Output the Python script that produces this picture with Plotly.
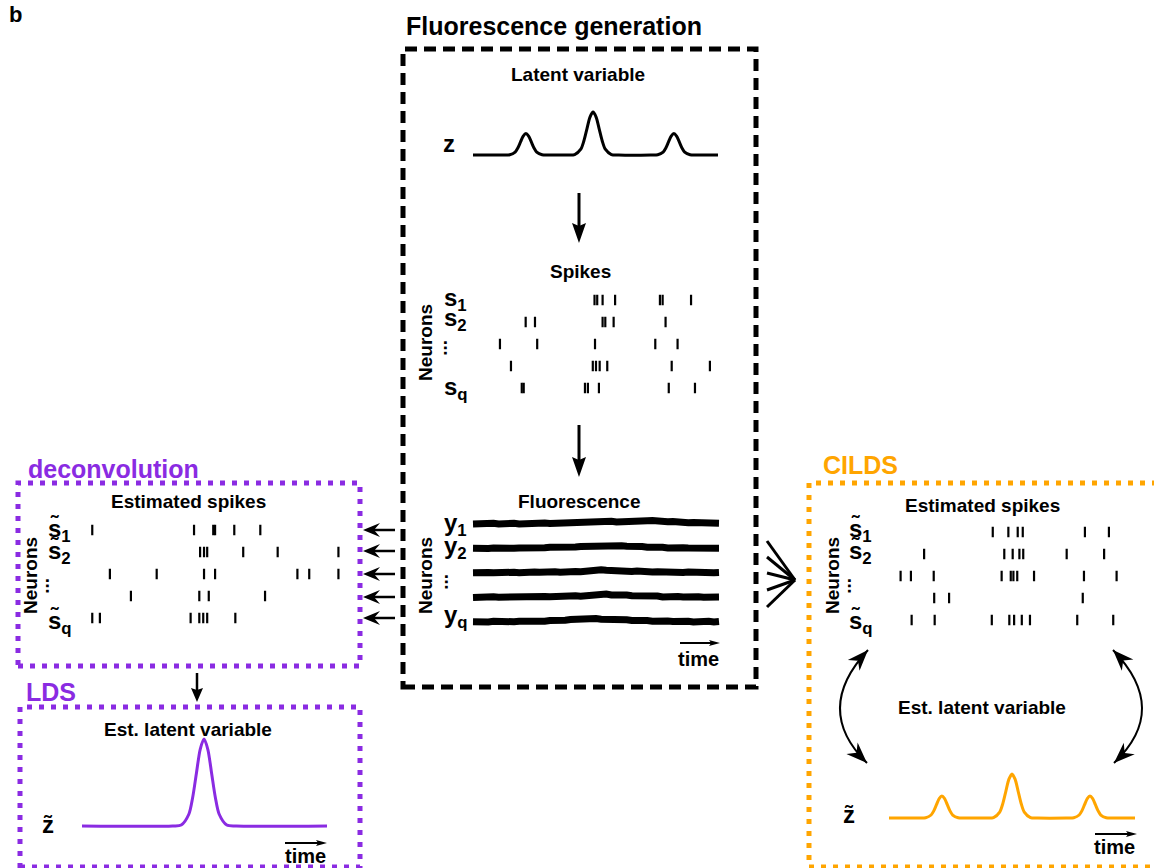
import math
import numpy as np
import plotly.graph_objects as go

W, H = 1154, 868
FONT = "Arial, 'Liberation Sans', Helvetica, sans-serif"
PURPLE = "#8a2be2"
ORANGE = "#ffa500"
BLACK = "#000000"

# ---------------------------------------------------------------- data
# latent variable z(t), t in [0, 1]
LATENT_T = [0.0, 0.12, 0.150, 0.172, 0.183, 0.194, 0.205, 0.216, 0.227, 0.238, 0.249, 0.260, 0.282, 0.31,
            0.385, 0.415, 0.440, 0.4525, 0.465, 0.4775, 0.490, 0.5025, 0.515, 0.5275, 0.540, 0.565, 0.595,
            0.725, 0.754, 0.776, 0.787, 0.798, 0.809, 0.820, 0.831, 0.842, 0.853, 0.864, 0.886, 0.915, 1.0]
LATENT_Z = [0.0, 0.0, 0.006, 0.068, 0.162, 0.303, 0.441, 0.500, 0.441, 0.303, 0.162, 0.068, 0.006, 0.0,
            0.0, 0.011, 0.135, 0.325, 0.607, 0.882, 1.000, 0.882, 0.607, 0.325, 0.135, 0.011, 0.0,
            0.0, 0.006, 0.068, 0.162, 0.303, 0.441, 0.500, 0.441, 0.303, 0.162, 0.068, 0.006, 0.0, 0.0]

# spike times of the generated neurons (rows s1, s2, ..., sq)
SPIKES = [
    [0.496, 0.507, 0.529, 0.580, 0.763, 0.774, 0.890],
    [0.215, 0.253, 0.529, 0.540, 0.574, 0.786],
    [0.110, 0.262, 0.498, 0.744, 0.835],
    [0.155, 0.489, 0.502, 0.517, 0.548, 0.811, 0.967],
    [0.199, 0.207, 0.457, 0.469, 0.514, 0.799, 0.906],
]

# fluorescence traces y1, y2, ..., yq (dF, evenly sampled over t in [0, 1])
FLUOR = [
    [0.00, 0.02, -0.01, 0.01, 0.03, 0.00, 0.02, 0.01, 0.03, 0.00, 0.02, 0.03, 0.01, 0.02, 0.04, 0.02, 0.03,
     0.02, 0.04, 0.03, 0.05, 0.04, 0.06, 0.09, 0.12, 0.10, 0.13, 0.11, 0.08, 0.10, 0.12, 0.14, 0.13, 0.15, 0.13,
     0.14, 0.11, 0.12, 0.09, 0.10, 0.07, 0.08, 0.05, 0.06, 0.04, 0.05, 0.03, 0.04, 0.03],
    [0.01, -0.01, 0.02, 0.00, 0.02, 0.00, 0.01, 0.03, 0.01, 0.02, 0.01, 0.03, 0.02, 0.04, 0.03, 0.05, 0.04,
     0.06, 0.05, 0.07, 0.06, 0.08, 0.09, 0.08, 0.11, 0.10, 0.12, 0.11, 0.13, 0.11, 0.09, 0.10, 0.07, 0.08, 0.05,
     0.07, 0.04, 0.05, 0.02, 0.04, 0.01, 0.03, 0.02, 0.03, 0.00, 0.02, 0.01, 0.03, 0.01],
    [0.01, 0.03, 0.00, 0.02, 0.01, 0.03, 0.01, 0.00, 0.03, 0.01, 0.04, 0.02, 0.04, 0.03, 0.05, 0.03, 0.05,
     0.03, 0.06, 0.04, 0.06, 0.05, 0.07, 0.08, 0.15, 0.13, 0.11, 0.09, 0.10, 0.08, 0.09, 0.06, 0.08, 0.05, 0.06,
     0.04, 0.05, 0.03, 0.05, 0.03, 0.04, 0.02, 0.04, 0.02, 0.04, 0.01, 0.03, 0.01, 0.02],
    [0.00, 0.02, 0.00, 0.02, 0.03, 0.01, 0.02, 0.00, 0.03, 0.02, 0.04, 0.01, 0.03, 0.02, 0.04, 0.03, 0.05,
     0.03, 0.06, 0.04, 0.07, 0.05, 0.08, 0.10, 0.13, 0.11, 0.14, 0.10, 0.12, 0.09, 0.10, 0.07, 0.08, 0.05, 0.07,
     0.04, 0.06, 0.02, 0.05, 0.02, 0.04, 0.02, 0.04, 0.01, 0.03, 0.01, 0.03, 0.01, 0.02],
    [0.01, -0.01, 0.02, 0.00, 0.03, 0.01, 0.00, 0.02, 0.01, 0.03, 0.02, 0.04, 0.02, 0.04, 0.03, 0.06, 0.05,
     0.08, 0.07, 0.10, 0.12, 0.10, 0.13, 0.11, 0.14, 0.11, 0.12, 0.10, 0.11, 0.08, 0.09, 0.06, 0.08, 0.05, 0.06,
     0.03, 0.05, 0.02, 0.04, 0.02, 0.04, 0.01, 0.03, 0.00, 0.03, 0.01, 0.03, 0.00, 0.02],
]

# spikes estimated by deconvolution
DECONV_SPIKES = [
    [0.039, 0.426, 0.499, 0.506, 0.579, 0.678],
    [0.449, 0.464, 0.476, 0.613, 0.744, 0.975],
    [0.106, 0.284, 0.464, 0.506, 0.819, 0.864, 0.975],
    [0.186, 0.446, 0.482, 0.696],
    [0.039, 0.068, 0.413, 0.446, 0.461, 0.476, 0.583],
]

# latent variable estimated by the LDS
LDS_T = [0.0, 0.37, 0.405, 0.436, 0.4515, 0.467, 0.4825, 0.498, 0.5135, 0.529, 0.5445, 0.560, 0.591, 0.63, 1.0]
LDS_Z = [0.0, 0.0, 0.011, 0.135, 0.325, 0.607, 0.882, 1.000, 0.882, 0.607, 0.325, 0.135, 0.011, 0.0, 0.0]

# spikes estimated by CILDS
CILDS_SPIKES = [
    [0.449, 0.514, 0.553, 0.574, 0.833, 0.933],
    [0.163, 0.497, 0.532, 0.560, 0.576, 0.757, 0.913],
    [0.065, 0.108, 0.203, 0.486, 0.524, 0.535, 0.551, 0.621, 0.829, 0.965],
    [0.205, 0.267, 0.824],
    [0.111, 0.207, 0.445, 0.518, 0.538, 0.570, 0.604, 0.801, 0.951],
]

# latent variable estimated by CILDS
CILDS_T = [0.0, 0.12, 0.149, 0.171, 0.182, 0.193, 0.204, 0.215, 0.226, 0.237, 0.248, 0.259, 0.281, 0.31,
           0.395, 0.425, 0.450, 0.4625, 0.475, 0.4875, 0.500, 0.5125, 0.525, 0.5375, 0.550, 0.575, 0.605,
           0.72, 0.751, 0.773, 0.784, 0.795, 0.806, 0.817, 0.828, 0.839, 0.850, 0.861, 0.883, 0.912, 1.0]
CILDS_Z = [0.0, 0.0, 0.006, 0.068, 0.162, 0.303, 0.441, 0.500, 0.441, 0.303, 0.162, 0.068, 0.006, 0.0,
           0.0, 0.011, 0.135, 0.325, 0.607, 0.882, 1.000, 0.882, 0.607, 0.325, 0.135, 0.011, 0.0,
           0.0, 0.006, 0.068, 0.162, 0.303, 0.441, 0.500, 0.441, 0.303, 0.162, 0.068, 0.006, 0.0, 0.0]

# ---------------------------------------------------------------- helpers
fig = go.Figure()
layout_axes = {}


def px_x(x):
    return x / W


def px_y(y):
    return 1 - y / H


def set_axes(k, xdom_px, ydom_px, xr, yr):
    xa = "xaxis" if k == 1 else f"xaxis{k}"
    ya = "yaxis" if k == 1 else f"yaxis{k}"
    layout_axes[xa] = dict(domain=[px_x(xdom_px[0]), px_x(xdom_px[1])], range=xr, visible=False,
                           fixedrange=True, anchor=f"y{'' if k == 1 else k}")
    layout_axes[ya] = dict(domain=[px_y(ydom_px[1]), px_y(ydom_px[0])], range=yr, visible=False,
                           fixedrange=True, anchor=f"x{'' if k == 1 else k}")
    return ("x" if k == 1 else f"x{k}"), ("y" if k == 1 else f"y{k}")


def curve_panel(k, x0, x1, base, unit, t, v, color):
    pad = 6
    xr = [-pad / (x1 - x0), 1 + pad / (x1 - x0)]
    top_val, bot_pad = 1.25, 8
    yr = [-bot_pad / unit, top_val]
    xa, ya = set_axes(k, (x0 - pad, x1 + pad), (base - unit * top_val, base + bot_pad), xr, yr)
    fig.add_trace(go.Scatter(x=t, y=v, mode="lines", xaxis=xa, yaxis=ya,
                             line=dict(color=color, width=3, shape="spline", smoothing=0.8),
                             hoverinfo="skip"))


def raster_panel(k, x0, x1, row1, gap, rows):
    pad = 6
    n = len(rows)
    xr = [-pad / (x1 - x0), 1 + pad / (x1 - x0)]
    xa, ya = set_axes(k, (x0 - pad, x1 + pad), (row1 - gap / 2, row1 + (n - 1) * gap + gap / 2),
                      xr, [n + 0.5, 0.5])
    for i, times in enumerate(rows):
        fig.add_trace(go.Scatter(x=times, y=[i + 1] * len(times), mode="markers", xaxis=xa, yaxis=ya,
                                 marker=dict(symbol="line-ns", size=7.5,
                                             line=dict(width=2.2, color=BLACK)),
                                 hoverinfo="skip"))


shapes = []
annotations = []


def seg(x0, y0, x1, y1, w, color):
    shapes.append(dict(type="line", xref="paper", yref="paper", x0=px_x(x0), y0=px_y(y0),
                       x1=px_x(x1), y1=px_y(y1), line=dict(color=color, width=w)))


def head(tx, ty, dx, dy, L, Wd, color, notch=0.0):
    n = math.hypot(dx, dy)
    ux, uy = dx / n, dy / n
    nx, ny = -uy, ux
    bx, by = tx - L * ux, ty - L * uy
    pts = [(tx, ty), (bx + Wd / 2 * nx, by + Wd / 2 * ny),
           (bx + notch * L * ux, by + notch * L * uy), (bx - Wd / 2 * nx, by - Wd / 2 * ny)]
    path = "M " + " L ".join(f"{px_x(a):.5f},{px_y(b):.5f}" for a, b in pts) + " Z"
    shapes.append(dict(type="path", xref="paper", yref="paper", path=path,
                       fillcolor=color, line=dict(width=0)))


def arrow(x0, y0, x1, y1, w, L, Wd, color=BLACK, notch=0.0):
    dx, dy = x1 - x0, y1 - y0
    n = math.hypot(dx, dy)
    sx, sy = x1 - dx / n * L * 0.6, y1 - dy / n * L * 0.6
    seg(x0, y0, sx, sy, w, color)
    head(x1, y1, dx, dy, L, Wd, color, notch)


def curved_double_arrow(p0, bulge, p2, w, L, Wd, color=BLACK):
    cx = 2 * bulge[0] - 0.5 * (p0[0] + p2[0])
    cy = 2 * bulge[1] - 0.5 * (p0[1] + p2[1])
    path = (f"M {px_x(p0[0]):.5f},{px_y(p0[1]):.5f} Q {px_x(cx):.5f},{px_y(cy):.5f} "
            f"{px_x(p2[0]):.5f},{px_y(p2[1]):.5f}")
    shapes.append(dict(type="path", xref="paper", yref="paper", path=path,
                       fillcolor="rgba(0,0,0,0)", line=dict(color=color, width=w)))
    head(p0[0], p0[1], p0[0] - cx, p0[1] - cy, L, Wd, color, 0.3)
    head(p2[0], p2[1], p2[0] - cx, p2[1] - cy, L, Wd, color, 0.3)


def frame(x0, y0, x1, y1, color, dash, w=5):
    shapes.append(dict(type="rect", xref="paper", yref="paper", x0=px_x(x0), y0=px_y(y1),
                       x1=px_x(x1), y1=px_y(y0), line=dict(color=color, width=w, dash=dash),
                       fillcolor="rgba(0,0,0,0)"))


def text(x, y, s, size, color=BLACK, xanchor="center", angle=0):
    annotations.append(dict(x=px_x(x), y=px_y(y), xref="paper", yref="paper", text=s,
                            showarrow=False, xanchor=xanchor, yanchor="middle", textangle=angle,
                            font=dict(family=FONT, size=size, color=color)))


LBL = 24  # size of the row labels (s, y, z)

# ---------------------------------------------------------------- fluorescence generation
frame(403, 49, 756, 687, BLACK, "12px,7px")
text(554, 26, "<b>Fluorescence generation</b>", 25)
text(15, 15, "<b>b</b>", 22)

text(578, 74, "<b>Latent variable</b>", 19)
text(449, 144, "<b>z</b>", LBL)
curve_panel(1, 473, 718, 155, 43, LATENT_T, LATENT_Z, BLACK)

arrow(579, 193, 579, 243, 3, 20, 14, notch=0.15)

text(580, 271, "<b>Spikes</b>", 19)
raster_panel(2, 473, 718, 300, 22, SPIKES)
text(425, 343, "<b>Neurons</b>", 19, angle=-90)
text(442, 300, "<b>s<sub>1</sub></b>", LBL, xanchor="left")
text(442, 319, "<b>s<sub>2</sub></b>", LBL, xanchor="left")
text(450, 348, "<b>...</b>", 19, angle=90)
text(442, 389, "<b>s<sub>q</sub></b>", LBL, xanchor="left")

arrow(579, 425, 579, 477, 3, 20, 14, notch=0.15)

text(579, 501, "<b>Fluorescence</b>", 19)
pad = 6
fx0, fx1, frow1, fgap = 473, 719, 524, 24.5
fxa, fya = set_axes(3, (fx0 - pad, fx1 + pad), (frow1 - 14, frow1 + 4 * fgap + 14),
                    [-pad / (fx1 - fx0), 1 + pad / (fx1 - fx0)],
                    [-(4 + 14 / fgap), 14 / fgap])
for i, tr in enumerate(FLUOR):
    t = np.linspace(0, 1, len(tr))
    fig.add_trace(go.Scatter(x=t, y=[v - i for v in tr], mode="lines", xaxis=fxa, yaxis=fya,
                             line=dict(color=BLACK, width=7), hoverinfo="skip"))
text(425, 576, "<b>Neurons</b>", 19, angle=-90)
text(442, 524, "<b>y<sub>1</sub></b>", LBL, xanchor="left")
text(442, 547, "<b>y<sub>2</sub></b>", LBL, xanchor="left")
text(452, 582, "<b>...</b>", 19, angle=90)
text(442, 616, "<b>y<sub>q</sub></b>", LBL, xanchor="left")
arrow(680, 643, 720, 643, 2, 11, 6, notch=0.2)
text(698, 659, "<b>time</b>", 20)

# ---------------------------------------------------------------- deconvolution / LDS
for yy in (530, 551, 574, 597, 618):
    arrow(395, yy, 363, yy, 2.5, 17, 14, notch=0.35)

frame(18, 483, 360, 666, PURPLE, "5px,7px")
text(113, 469, "<b>deconvolution</b>", 25, color=PURPLE)
text(188, 501, "<b>Estimated spikes</b>", 19)
raster_panel(4, 82, 345, 530, 22, DECONV_SPIKES)
text(30, 576, "<b>Neurons</b>", 19, angle=-90)
text(46, 530, "<b>s\u0303<sub>1</sub></b>", LBL, xanchor="left")
text(46, 552, "<b>s\u0303<sub>2</sub></b>", LBL, xanchor="left")
text(53, 586, "<b>...</b>", 19, angle=90)
text(46, 622, "<b>s\u0303<sub>q</sub></b>", LBL, xanchor="left")

arrow(197, 673, 197, 702, 2.5, 14, 12, notch=0.15)

frame(20, 707, 360, 867, PURPLE, "5px,7px")
text(51, 692, "<b>LDS</b>", 25, color=PURPLE)
text(188, 729, "<b>Est. latent variable</b>", 19)
text(48, 824, "<b>z\u0303</b>", LBL)
curve_panel(5, 82, 327, 826, 87, LDS_T, LDS_Z, PURPLE)
arrow(285, 843, 327, 843, 2, 11, 6, notch=0.2)
text(305, 856, "<b>time</b>", 20)

# ---------------------------------------------------------------- CILDS
for yy in (541, 557, 573, 590, 607):
    seg(767, yy, 795, 580, 3, BLACK)

frame(809, 483, 1175, 867, ORANGE, "5px,7px")
text(860, 465, "<b>CILDS</b>", 25, color=ORANGE)
text(982, 505, "<b>Estimated spikes</b>", 19)
raster_panel(6, 885, 1125, 532, 22, CILDS_SPIKES)
text(832, 576, "<b>Neurons</b>", 19, angle=-90)
text(847, 530, "<b>s\u0303<sub>1</sub></b>", LBL, xanchor="left")
text(847, 552, "<b>s\u0303<sub>2</sub></b>", LBL, xanchor="left")
text(855, 586, "<b>...</b>", 19, angle=90)
text(847, 622, "<b>s\u0303<sub>q</sub></b>", LBL, xanchor="left")

curved_double_arrow((868, 650), (840, 708), (867, 763), 2, 21, 16)
curved_double_arrow((1113, 650), (1142, 708), (1114, 763), 2, 21, 16)
text(982, 707, "<b>Est. latent variable</b>", 19)
text(849, 814, "<b>z\u0303</b>", LBL)
curve_panel(7, 889, 1135, 818, 44, CILDS_T, CILDS_Z, ORANGE)
arrow(1095, 834, 1137, 834, 2, 11, 6, notch=0.2)
text(1114, 847, "<b>time</b>", 20)

fig.update_layout(
    width=W, height=H, autosize=False,
    margin=dict(l=0, r=0, t=0, b=0, pad=0),
    paper_bgcolor="white", plot_bgcolor="rgba(0,0,0,0)",
    showlegend=False, shapes=shapes, annotations=annotations,
    **layout_axes,
)
fig.write_html("out.html", config={"displayModeBar": False})
